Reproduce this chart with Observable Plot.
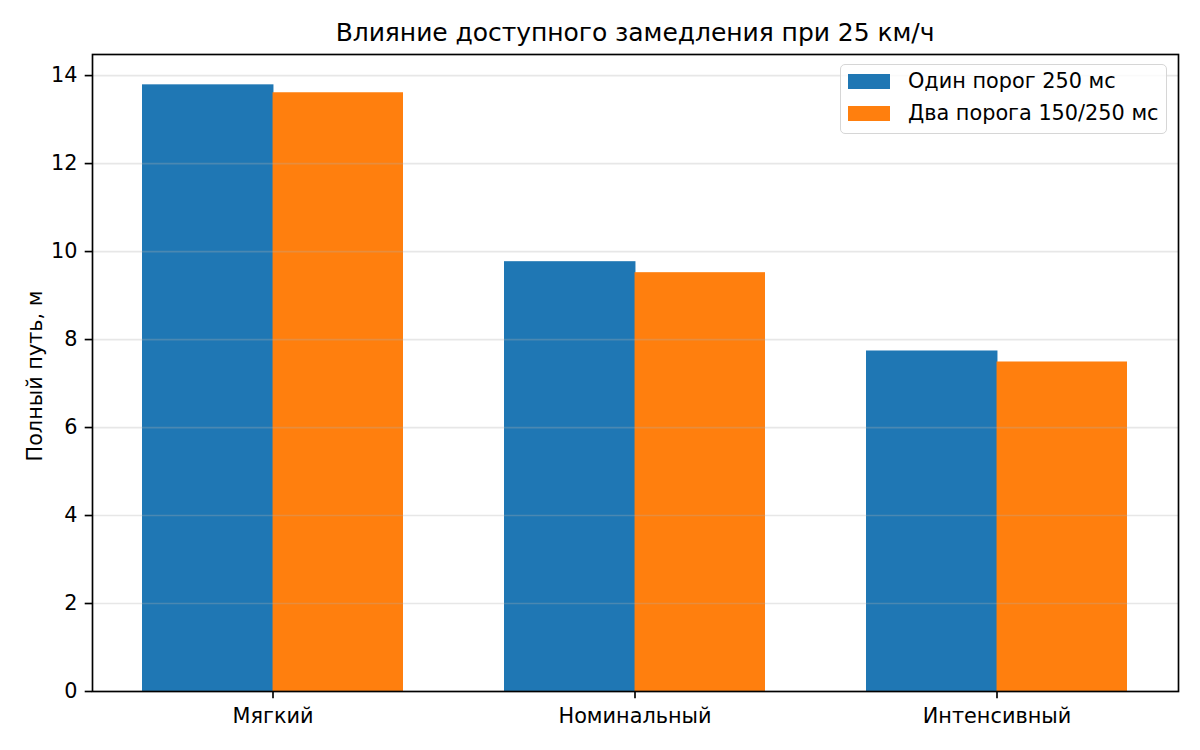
<!DOCTYPE html>
<html>
<head>
<meta charset="utf-8">
<script src="https://cdn.jsdelivr.net/npm/d3@7"></script>
<script src="https://cdn.jsdelivr.net/npm/@observablehq/plot@0.6"></script>
<style>
  html, body { margin: 0; padding: 0; background: #fff; }
  body { font-family: "DejaVu Sans", sans-serif; color: #000; }
  #wrap { position: relative; width: 1200px; height: 750px; overflow: hidden; }
  #chart { position: absolute; left: 0; top: 0; }
  #title { position: absolute; left: 92px; width: 1086px; top: 20px; text-align: center;
           font-size: 25px; line-height: 25px; white-space: nowrap; letter-spacing: -0.05px; }
  #legend { position: absolute; left: 840px; top: 64px; width: 325px; height: 68px;
            border: 1.5px solid #d6d6d6; border-radius: 5px; background: rgba(255,255,255,0.8);
            font-size: 20.8px; }
  .item { position: absolute; left: 7px; height: 30px; }
  .swatch { position: absolute; left: 0; width: 42px; height: 14.6px; }
  .label { position: absolute; left: 60px; white-space: nowrap; line-height: 20.8px; }
</style>
</head>
<body>
<div id="wrap">
  <div id="chart"></div>
  <div id="title"></div>
  <div id="legend"></div>
</div>
<script>
const titleText = "Влияние доступного замедления при 25 км/ч";
const yLabel = "Полный путь, м";
const categories = ["Мягкий", "Номинальный", "Интенсивный"];
const seriesNames = ["Один порог 250 мс", "Два порога 150/250 мс"];
const singleThreshold = [13.79, 9.77, 7.74];
const dualThreshold = [13.61, 9.52, 7.49];
const yTicks = [0, 2, 4, 6, 8, 10, 12, 14];
const colors = ["#1f77b4", "#ff7f0e"];

const rows = categories.map((c, i) => ({category: c, single: singleThreshold[i], dual: dualThreshold[i]}));
const yMax = d3.max([...singleThreshold, ...dualThreshold]) * 1.05;

const W = 1200, H = 750, mL = 92, mR = 22, mT = 54, mB = 59;
const padIn = 0.279, padOut = 0.139;
const step = (W - mL - mR) / (categories.length - padIn + 2 * padOut);
const half = step * (1 - padIn) / 2;

const chart = Plot.plot({
  width: W, height: H,
  marginLeft: mL, marginRight: mR, marginTop: mT, marginBottom: mB,
  style: {fontFamily: "DejaVu Sans, sans-serif", fontSize: "20.8px", color: "#000", background: "#fff"},
  x: {domain: categories, paddingInner: padIn, paddingOuter: padOut, align: 0.5},
  y: {domain: [0, yMax]},
  marks: [
    Plot.barY(rows, {x: "category", y: "single", fill: colors[0], insetRight: half - 1, insetLeft: 0}),
    Plot.barY(rows, {x: "category", y: "dual", fill: colors[1], insetLeft: half, insetRight: 0}),
    Plot.gridY(yTicks, {stroke: "#b0b0b0", strokeOpacity: 0.3, strokeWidth: 1.67}),
    Plot.axisY({ticks: yTicks, tickSize: 7.3, tickPadding: 7.7, strokeWidth: 1.67, label: null, fontSize: 20.8}),
    Plot.axisX({tickSize: 7.3, tickPadding: 9.7, strokeWidth: 1.67, label: null, fontSize: 20.8}),
    Plot.frame({stroke: "#000", strokeWidth: 1.67}),
    Plot.text([yLabel], {text: d => d, frameAnchor: "left", textAnchor: "middle", lineAnchor: "middle",
                         rotate: -90, dx: -57, dy: 3, fontSize: 20.8, fill: "#000"})
  ]
});
document.getElementById("chart").appendChild(chart);
document.getElementById("title").textContent = titleText;

const legend = document.getElementById("legend");
seriesNames.forEach((name, i) => {
  const item = document.createElement("div");
  item.className = "item";
  item.style.top = (9 + i * 32) + "px";
  const sw = document.createElement("div");
  sw.className = "swatch";
  sw.style.background = colors[i];
  sw.style.top = "0px";
  const lb = document.createElement("div");
  lb.className = "label";
  lb.style.top = "-3px";
  lb.textContent = name;
  item.appendChild(sw);
  item.appendChild(lb);
  legend.appendChild(item);
});
</script>
</body>
</html>
